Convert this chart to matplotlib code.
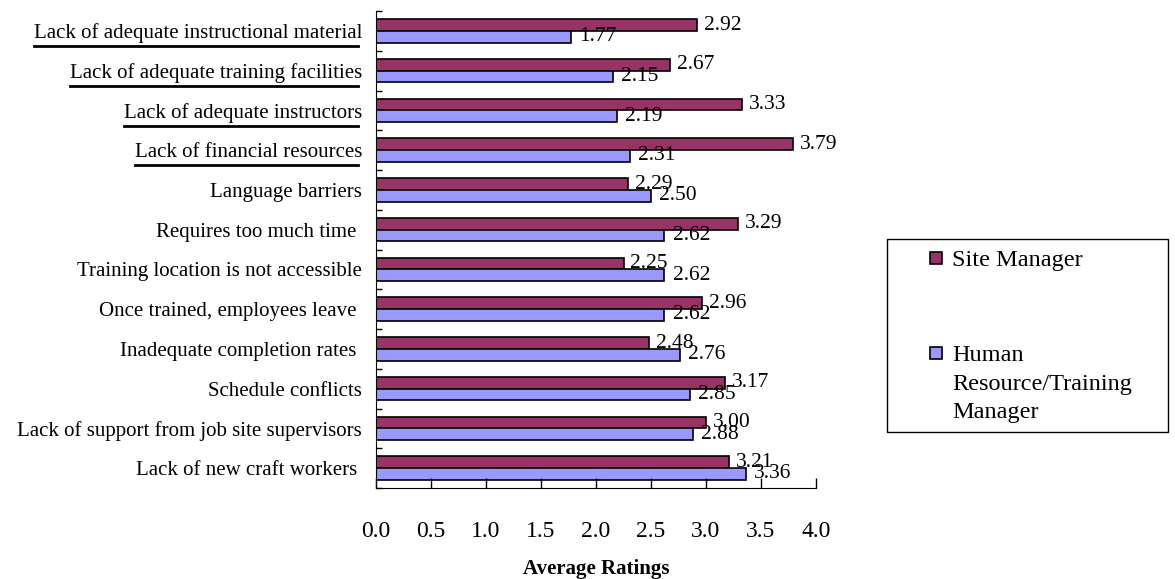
import numpy as np
import matplotlib.pyplot as plt
from matplotlib.patches import Rectangle
from matplotlib.lines import Line2D

plt.rcParams['font.family'] = ['Liberation Serif', 'DejaVu Serif']

# Data (top to bottom as shown)
categories = [
    "Lack of adequate instructional material",
    "Lack of adequate training facilities",
    "Lack of adequate instructors",
    "Lack of financial resources",
    "Language barriers",
    "Requires too much time ",
    "Training location is not accessible",
    "Once trained, employees leave ",
    "Inadequate completion rates ",
    "Schedule conflicts",
    "Lack of support from job site supervisors",
    "Lack of new craft workers ",
]
site_manager = [2.92, 2.67, 3.33, 3.79, 2.29, 3.29, 2.25, 2.96, 2.48, 3.17, 3.00, 3.21]
hr_manager = [1.77, 2.15, 2.19, 2.31, 2.50, 2.62, 2.62, 2.62, 2.76, 2.85, 2.88, 3.36]
underlined = [0, 1, 2, 3]
series_names = ["Site Manager", "Human\nResource/Training\nManager"]
colors = ["#993366", "#9999FF"]

W, H = 1175, 579
fig = plt.figure(figsize=(W / 100, H / 100), dpi=100)
ax = fig.add_axes([376 / W, 1 - 488 / H, (816 - 376) / W, (488 - 11) / H])

y = np.arange(len(categories))
bh = 0.295
ax.barh(y - bh / 2, site_manager, height=bh, color=colors[0], edgecolor='black', linewidth=1.2)
ax.barh(y + bh / 2, hr_manager, height=bh, color=colors[1], edgecolor='black', linewidth=1.2)

for yi, v in zip(y, site_manager):
    ax.annotate(f"{v:.2f}", (v, yi - bh / 2), xytext=(5, 0), textcoords='offset points',
                va='center', ha='left', fontsize=15.5)
for yi, v in zip(y, hr_manager):
    ax.annotate(f"{v:.2f}", (v, yi + bh / 2), xytext=(6, 0), textcoords='offset points',
                va='center', ha='left', fontsize=15.5)

ax.set_ylim(len(categories) - 0.5, -0.5)
ax.set_xlim(0, 4.0)
ax.set_xticks(np.arange(0, 4.01, 0.5))
ax.set_xticklabels([f"{t:.1f}" for t in np.arange(0, 4.01, 0.5)], fontsize=17)
ax.set_yticks(y)
ax.set_yticklabels(categories, fontsize=15)
ax.set_yticks(np.arange(-0.5, len(categories), 1.0), minor=True)
ax.tick_params(axis='y', which='major', length=0, pad=10)
ax.tick_params(axis='y', which='minor', length=4, direction='in', width=1)
ax.tick_params(axis='x', direction='in', length=7, width=1, pad=24)
ax.spines['top'].set_visible(False)
ax.spines['right'].set_visible(False)
ax.set_xlabel("Average Ratings", fontsize=15, fontweight='bold', labelpad=12)

# underlines under the highlighted labels
fig.canvas.draw()
renderer = fig.canvas.get_renderer()
labels = ax.get_yticklabels()
for i in underlined:
    bb = labels[i].get_window_extent(renderer)
    yline = bb.y0 - 3
    fig.add_artist(Line2D([bb.x0 / W, (bb.x1 - 4) / W], [yline / H, yline / H],
                          color='black', linewidth=2, transform=fig.transFigure))

# legend drawn by hand to keep swatch next to first line
fig.add_artist(Rectangle((887 / W, 1 - 432 / H), (1168 - 887) / W, (432 - 239) / H,
                         transform=fig.transFigure, facecolor='white', edgecolor='black', linewidth=1))
swatch_top = [252, 347]
text_y = [262, 357]
for name, c, st, ty in zip(series_names, colors, swatch_top, text_y):
    fig.add_artist(Rectangle((930 / W, 1 - (st + 12) / H), 12 / W, 12 / H,
                             transform=fig.transFigure, facecolor=c, edgecolor='black', linewidth=1.2))
    fig.text(952 / W, 1 - (ty - 12) / H, name, fontsize=17.5, va='top', ha='left',
             linespacing=1.47)

fig.savefig("out.png", dpi=100)
